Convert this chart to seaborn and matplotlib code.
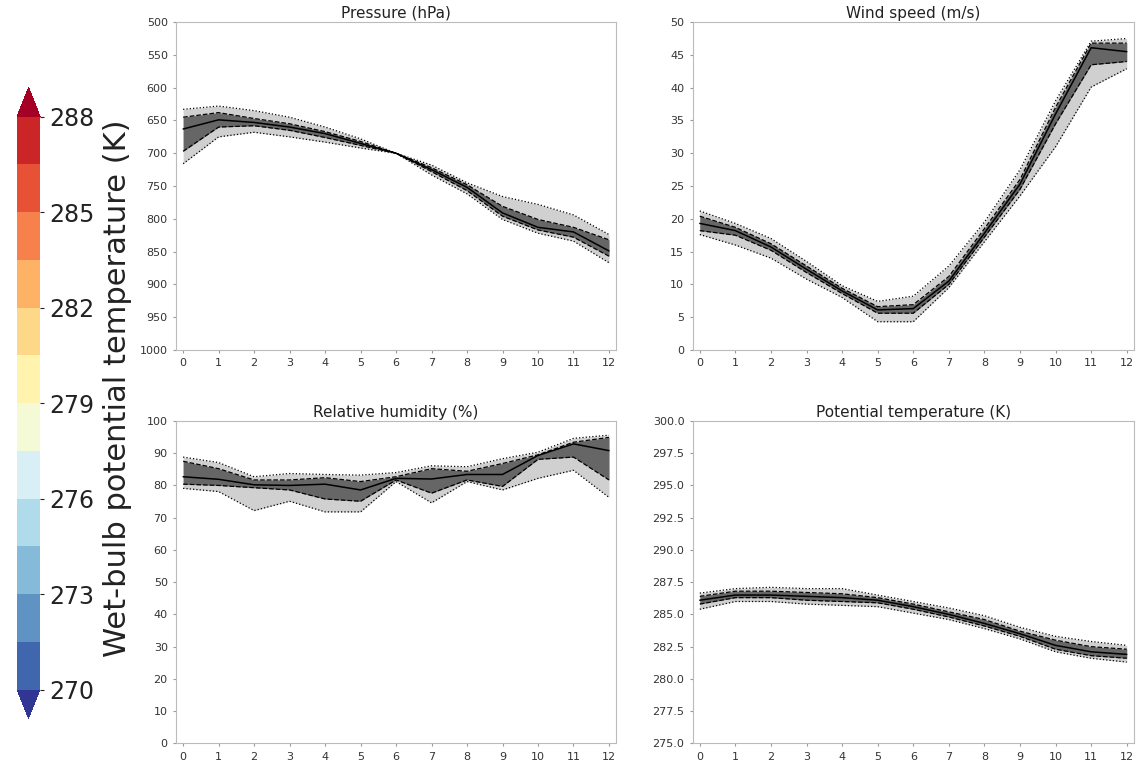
import matplotlib
matplotlib.use('Agg')
import matplotlib as mpl
import matplotlib.pyplot as plt
import seaborn as sns

sns.set_style('white')

hours = list(range(13))

# pressure (hPa): low/high envelope, quartiles and median
p_lo = [633, 628, 635, 645, 660, 678, 700, 718, 745, 766, 778, 794, 824]
p_q1 = [645, 638, 647, 655, 667, 682, 700, 722, 748, 781, 801, 813, 832]
p_med = [663, 649, 653, 660, 670, 685, 700, 725, 752, 791, 813, 820, 849]
p_q3 = [697, 660, 658, 665, 676, 688, 700, 728, 757, 796, 817, 828, 857]
p_hi = [716, 675, 668, 675, 683, 692, 700, 733, 762, 801, 822, 834, 867]

# wind speed (m/s)
ws_lo = [17.6, 16.0, 14.0, 10.8, 8.0, 4.3, 4.3, 9.5, 16.5, 23.5, 31.0, 40.1, 42.9]
ws_q1 = [18.2, 17.5, 15.2, 11.8, 8.6, 5.6, 5.6, 10.0, 17.2, 24.5, 34.5, 43.5, 44.0]
ws_med = [19.3, 18.2, 15.7, 12.3, 9.0, 6.1, 6.3, 10.5, 17.8, 25.3, 36.0, 46.1, 45.5]
ws_q3 = [20.4, 18.7, 16.2, 12.8, 9.4, 6.6, 6.9, 11.2, 18.5, 26.0, 37.0, 46.8, 46.8]
ws_hi = [21.2, 19.3, 17.0, 13.5, 9.8, 7.4, 8.2, 12.8, 19.5, 27.5, 38.0, 47.1, 47.5]

# relative humidity (%)
rh_lo = [79.1, 78.1, 72.2, 75.1, 71.8, 71.8, 81.2, 74.6, 81.2, 78.6, 82.2, 84.7, 76.3]
rh_q1 = [80.4, 80.0, 79.3, 78.6, 75.8, 75.1, 81.7, 77.6, 81.7, 79.7, 88.1, 88.8, 81.7]
rh_med = [82.7, 81.9, 80.2, 80.0, 80.4, 78.6, 82.2, 82.0, 83.4, 83.4, 89.3, 92.9, 90.8]
rh_q3 = [87.5, 85.2, 81.7, 81.7, 82.4, 81.2, 82.7, 85.2, 84.4, 86.8, 89.5, 93.4, 94.9]
rh_hi = [88.8, 87.1, 82.7, 83.7, 83.4, 83.2, 84.0, 86.1, 85.8, 88.3, 90.3, 94.6, 95.6]

# potential temperature (K)
th_lo = [285.4, 286.0, 286.0, 285.8, 285.7, 285.6, 285.1, 284.6, 283.9, 283.1, 282.1, 281.6, 281.3]
th_q1 = [285.8, 286.3, 286.3, 286.1, 286.0, 285.9, 285.4, 284.8, 284.1, 283.3, 282.3, 281.8, 281.6]
th_med = [286.1, 286.5, 286.5, 286.4, 286.3, 286.1, 285.6, 285.0, 284.3, 283.5, 282.6, 282.1, 281.9]
th_q3 = [286.4, 286.8, 286.8, 286.7, 286.6, 286.3, 285.8, 285.2, 284.6, 283.7, 283.0, 282.5, 282.3]
th_hi = [286.65, 287.0, 287.1, 287.0, 287.0, 286.5, 286.0, 285.5, 284.9, 284.0, 283.3, 282.9, 282.6]

cbar_levels = [270, 271.5, 273, 274.5, 276, 277.5, 279, 280.5, 282, 283.5, 285, 286.5, 288]
cbar_ticks = [270, 273, 276, 279, 282, 285, 288]

panels = [
    ('Pressure (hPa)', p_lo, p_q1, p_med, p_q3, p_hi, (1000, 500), list(range(500, 1001, 50)), '{:.0f}'),
    ('Wind speed (m/s)', ws_lo, ws_q1, ws_med, ws_q3, ws_hi, (0, 50), list(range(0, 51, 5)), '{:.0f}'),
    ('Relative humidity (%)', rh_lo, rh_q1, rh_med, rh_q3, rh_hi, (0, 100), list(range(0, 101, 10)), '{:.0f}'),
    ('Potential temperature (K)', th_lo, th_q1, th_med, th_q3, th_hi, (275, 300),
     [275 + 2.5 * i for i in range(11)], '{:.1f}'),
]

rects = [
    [0.154, 0.542, 0.385, 0.429],
    [0.606, 0.542, 0.386, 0.429],
    [0.154, 0.027, 0.385, 0.422],
    [0.606, 0.027, 0.386, 0.422],
]

fig = plt.figure(figsize=(11.43, 7.64), dpi=100)

for rect, (title, lo, q1, med, q3, hi, ylim, yticks, fmt) in zip(rects, panels):
    ax = fig.add_axes(rect)
    ax.fill_between(hours, lo, hi, color='#d0d0d0', lw=0)
    ax.fill_between(hours, q1, q3, color='#666666', lw=0)
    sns.lineplot(x=hours, y=lo, color='k', lw=0.9, ls=':', ax=ax)
    sns.lineplot(x=hours, y=hi, color='k', lw=0.9, ls=':', ax=ax)
    sns.lineplot(x=hours, y=q1, color='k', lw=0.9, ls='--', ax=ax)
    sns.lineplot(x=hours, y=q3, color='k', lw=0.9, ls='--', ax=ax)
    sns.lineplot(x=hours, y=med, color='k', lw=1.1, ax=ax)
    ax.set_xlim(-0.2, 12.2)
    ax.set_ylim(*ylim)
    ax.set_xticks(hours)
    ax.set_yticks(yticks)
    ax.set_yticklabels([fmt.format(v) for v in yticks])
    ax.tick_params(labelsize=8, colors='#333333', length=2.5, left=True, bottom=True)
    ax.tick_params(color='#999999')
    for s in ax.spines.values():
        s.set_color('#bbbbbb')
    ax.set_title(title, fontsize=11, color='#222222', pad=3)

# colorbar on the left
cax = fig.add_axes([0.015, 0.060, 0.020, 0.825])
cmap = plt.get_cmap('RdYlBu_r', len(cbar_levels) + 1)
norm = mpl.colors.BoundaryNorm(cbar_levels, cmap.N, extend='both')
cb = mpl.colorbar.ColorbarBase(cax, cmap=cmap, norm=norm, extend='both',
                               ticks=cbar_ticks, orientation='vertical')
cb.minorticks_off()
cb.outline.set_visible(False)
cb.ax.tick_params(labelsize=17, colors='#222222', length=3)
cb.ax.set_yticklabels([str(t) for t in cbar_ticks])
cb.set_label('Wet-bulb potential temperature (K)', fontsize=22, color='#222222', labelpad=6)
cb.ax.yaxis.label.set_y(0.525)

fig.savefig('out.png', dpi=100)
